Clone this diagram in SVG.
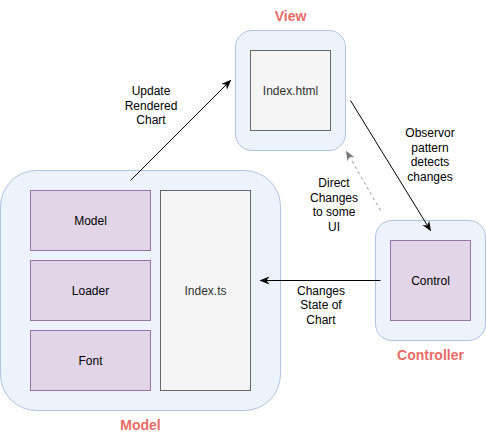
<svg xmlns="http://www.w3.org/2000/svg" width="486" height="442" viewBox="0 0 486 442">
<style>
text{font-family:"Liberation Sans",Arial,sans-serif;font-size:12px;text-anchor:middle;dominant-baseline:central;fill:#000}
.cont{fill:#dae8fc;fill-opacity:0.5;stroke:#6c8ebf;stroke-opacity:0.5}
.purple{fill:#e1d5e7;stroke:#9673a6}
.gray{fill:#f5f5f5;stroke:#666666}
.gt{fill:#333333}
.title{font-size:14px;font-weight:bold;fill:#ea6b66}
.edge{fill:none;stroke:#000;stroke-width:1}
.dash{fill:none;stroke:#999999;stroke-width:1;stroke-dasharray:3 3}
</style>
<defs>
<marker id="ah" viewBox="0 0 10 10" refX="9" refY="5" markerWidth="10" markerHeight="10" markerUnits="userSpaceOnUse" orient="auto">
<path d="M0,1 L10,5 L0,9 L3,5 Z" fill="#000"/>
</marker>
<marker id="ahg" viewBox="0 0 10 10" refX="9" refY="5" markerWidth="10" markerHeight="10" markerUnits="userSpaceOnUse" orient="auto">
<path d="M0,1 L10,5 L0,9 L3,5 Z" fill="#777777"/>
</marker>
</defs>
<g id="view">
<rect class="cont" x="235.5" y="30.5" width="110" height="120" rx="16.5"/>
<rect class="gray" x="250.5" y="50.5" width="80" height="80"/>
<text class="gt" x="290.5" y="90.5">Index.html</text>
<text class="title" x="290.5" y="16">View</text>
</g>
<g id="model">
<rect class="cont" x="0.5" y="170.5" width="280" height="240" rx="36"/>
<g id="model-box"><rect class="purple" x="30.5" y="190.5" width="120" height="60"/><text x="90.5" y="220.5">Model</text></g>
<g id="loader-box"><rect class="purple" x="30.5" y="260.5" width="120" height="60"/><text x="90.5" y="290.5">Loader</text></g>
<g id="font-box"><rect class="purple" x="30.5" y="330.5" width="120" height="60"/><text x="90.5" y="360.5">Font</text></g>
<g id="index-ts"><rect class="gray" x="160.5" y="190.5" width="90" height="200"/><text class="gt" x="205.5" y="290.5">Index.ts</text></g>
<text class="title" x="140.5" y="425">Model</text>
</g>
<g id="controller">
<rect class="cont" x="375.5" y="220.5" width="110" height="120" rx="16.5"/>
<rect class="purple" x="390.5" y="240.5" width="80" height="80"/>
<text x="430.5" y="280.5">Control</text>
<text class="title" x="430.5" y="355">Controller</text>
</g>
<g id="connectors">
<line class="edge" x1="130.5" y1="180.5" x2="230.5" y2="80.5" marker-end="url(#ah)"/>
<text x="151" y="91">Update</text>
<text x="151" y="105.5">Rendered</text>
<text x="151" y="120">Chart</text>
<line class="edge" x1="350.5" y1="100.5" x2="430.5" y2="230.5" marker-end="url(#ah)"/>
<text x="430" y="133">Observor</text>
<text x="430" y="147.5">pattern</text>
<text x="430" y="162">detects</text>
<text x="430" y="176.5">changes</text>
<line class="dash" x1="380.5" y1="210.5" x2="346.5" y2="151.5" marker-end="url(#ahg)"/>
<text x="334" y="183">Direct</text>
<text x="334" y="197.5">Changes</text>
<text x="334" y="212">to some</text>
<text x="334" y="226.5">UI</text>
<line class="edge" x1="380.5" y1="280.5" x2="260.5" y2="280.5" marker-end="url(#ah)"/>
<text x="321" y="290.5">Changes</text>
<text x="321" y="305">State of</text>
<text x="321" y="319.5">Chart</text>
</g>
</svg>
